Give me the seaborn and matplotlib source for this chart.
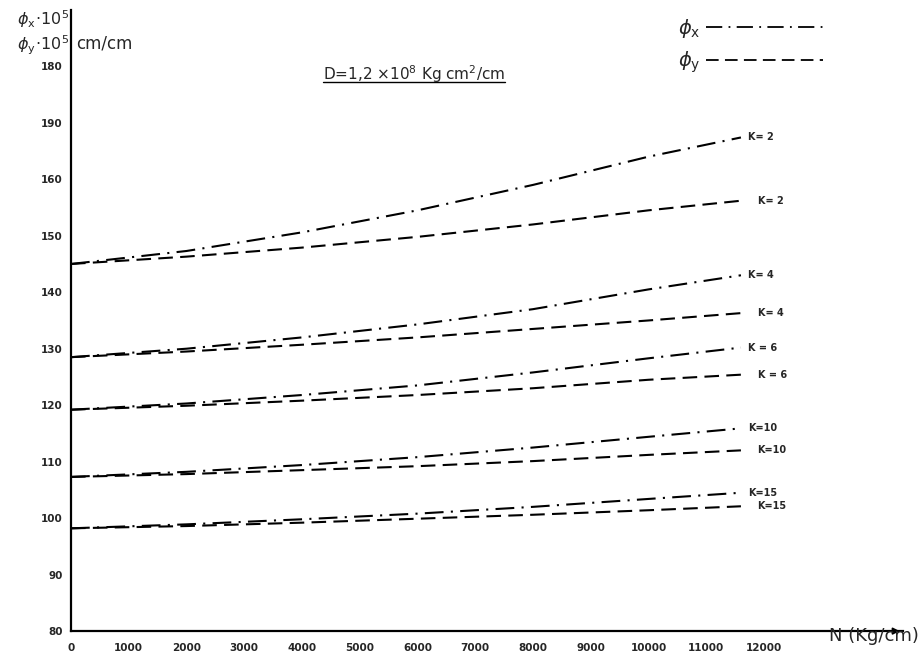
import numpy as np
import pandas as pd
import seaborn as sns
import matplotlib.pyplot as plt
from matplotlib.lines import Line2D

# Axial load N (Kg/cm) at which the curvatures were read
n_x = [0, 2000, 4000, 6000, 8000, 10000, 11600]

# phi_x * 10^5 (cm/cm) for each stiffness ratio K
phix_k2 = [145.0, 147.3, 150.6, 154.5, 159.0, 164.0, 167.4]
phix_k4 = [128.5, 130.0, 132.0, 134.3, 137.0, 140.5, 143.0]
phix_k6 = [119.2, 120.3, 121.8, 123.5, 125.8, 128.3, 130.2]
phix_k10 = [107.3, 108.2, 109.4, 110.8, 112.5, 114.4, 115.9]
phix_k15 = [98.2, 98.9, 99.8, 100.8, 102.0, 103.4, 104.5]

# phi_y * 10^5 (cm/cm) for each stiffness ratio K
phiy_k2 = [145.0, 146.3, 147.9, 149.8, 152.0, 154.5, 156.2]
phiy_k4 = [128.5, 129.5, 130.7, 132.0, 133.5, 135.0, 136.3]
phiy_k6 = [119.2, 119.9, 120.8, 121.8, 123.0, 124.5, 125.4]
phiy_k10 = [107.3, 107.8, 108.5, 109.2, 110.1, 111.2, 112.0]
phiy_k15 = [98.2, 98.6, 99.2, 99.9, 100.6, 101.4, 102.1]

k_values = [2, 4, 6, 10, 15]
k_labels_x = ["K= 2", "K= 4", "K = 6", "K=10", "K=15"]
k_labels_y = ["K= 2", "K= 4", "K = 6", "K=10", "K=15"]

x_ticks = [0, 1000, 2000, 3000, 4000, 5000, 6000, 7000, 8000, 9000, 10000, 11000, 12000]
x_tick_labels = ["0", "1000", "2000", "3000", "4000", "5000", "6000", "7000",
                 "8000", "9000", "10000", "11000", "12000"]
y_ticks = [80, 90, 100, 110, 120, 130, 140, 150, 160, 170, 180]
y_tick_labels = ["80", "90", "100", "110", "120", "130", "140", "150", "160", "190", "180"]

phix_all = [phix_k2, phix_k4, phix_k6, phix_k10, phix_k15]
phiy_all = [phiy_k2, phiy_k4, phiy_k6, phiy_k10, phiy_k15]

rows = []
for k, vx, vy in zip(k_values, phix_all, phiy_all):
    for n, a, b in zip(n_x, vx, vy):
        rows.append({"N": n, "phi": a, "comp": "x", "K": k})
        rows.append({"N": n, "phi": b, "comp": "y", "K": k})
df = pd.DataFrame(rows)

sns.set_style("white")
plt.rcParams["font.family"] = ["DejaVu Sans"]

fig = plt.figure(figsize=(9.22, 6.54), dpi=100)
ax = fig.add_axes([0.077, 0.035, 0.902, 0.95])

dash_x = (9, 3.5, 1, 3.5)
dash_y = (7, 3.5)
sns.lineplot(data=df, x="N", y="phi", style="comp", units="K", estimator=None,
             dashes={"x": dash_x, "y": dash_y}, color="black", lw=1.5,
             legend=False, ax=ax, sort=True)

ax.set_xlim(0, 14400)
ax.set_ylim(80, 190)
for s in ["top", "right"]:
    ax.spines[s].set_visible(False)
for s in ["left", "bottom"]:
    ax.spines[s].set_linewidth(1.6)
    ax.spines[s].set_color("black")

ax.set_xticks(x_ticks)
ax.set_xticklabels(x_tick_labels, fontsize=7.5, fontweight="bold")
ax.set_yticks(y_ticks)
ax.set_yticklabels(y_tick_labels, fontsize=7.5, fontweight="bold")
ax.tick_params(axis="y", direction="out", length=4, width=1, pad=2)
ax.tick_params(axis="x", direction="inout", length=5, width=1, pad=6)
ax.set_xlabel("")
ax.set_ylabel("")

# arrow head at the end of the N axis
ax.annotate("", xy=(1.0, 0), xycoords="axes fraction",
            xytext=(0.97, 0), textcoords="axes fraction",
            arrowprops=dict(arrowstyle="-|>", color="black", lw=1.2))

# curve labels at the right-hand ends
for lab, vx in zip(k_labels_x, phix_all):
    ax.annotate(lab, xy=(n_x[-1], vx[-1]), xytext=(5, 0), textcoords="offset points",
                va="center", ha="left", fontsize=7, fontweight="bold")
for lab, vy in zip(k_labels_y, phiy_all):
    ax.annotate(lab, xy=(n_x[-1], vy[-1]), xytext=(12, 0), textcoords="offset points",
                va="center", ha="left", fontsize=7, fontweight="bold")

# legend in the top right corner, handle after the symbol
handles = [Line2D([], [], color="black", lw=1.3, dashes=dash_x),
           Line2D([], [], color="black", lw=1.3, dashes=dash_y)]
ax.legend(handles, [r"$\phi_{\mathrm{x}}$", r"$\phi_{\mathrm{y}}$"],
          loc="upper right", bbox_to_anchor=(0.925, 1.017), frameon=False,
          markerfirst=False, handlelength=6, fontsize=14, labelspacing=0.5,
          handletextpad=0.3)

# quantity and units of the vertical axis
fig.text(0.018, 0.970, r"$\phi_{\mathrm{x}}\!\cdot\!10^{5}$", fontsize=11.5, ha="left", va="center")
fig.text(0.018, 0.931, r"$\phi_{\mathrm{y}}\!\cdot\!10^{5}$", fontsize=11.5, ha="left", va="center")
fig.text(0.083, 0.934, "cm/cm", fontsize=12, ha="left", va="center")

# plate stiffness heading, underlined
fig.text(0.449, 0.887, r"D=1,2 ×10$^{8}$ Kg cm$^{2}$/cm", fontsize=11,
         ha="center", va="center")
fig.add_artist(Line2D([0.350, 0.548], [0.874, 0.874], color="black", lw=1.0,
                      transform=fig.transFigure))

fig.text(0.997, 0.028, "N (Kg/cm)", fontsize=13, ha="right", va="center")

fig.savefig("out.png", dpi=100, facecolor="white")
